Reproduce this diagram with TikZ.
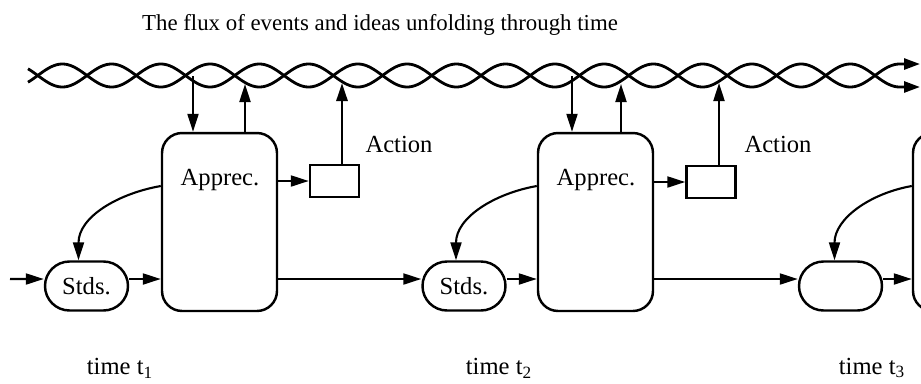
\documentclass[tikz,border=0pt]{standalone}
\usepackage{fontspec}
\setmainfont{Liberation Serif}
\usetikzlibrary{positioning,shapes.misc,arrows.meta}

\begin{document}
\begin{tikzpicture}[x=0.02cm,y=-0.02cm,font=\fontsize{14}{16}\selectfont,
    apbox/.style={draw,line width=1.4pt,rounded corners=0.4cm,minimum width=2.3cm,minimum height=3.56cm},
    stdbox/.style={draw,line width=1.4pt,rounded rectangle,minimum width=1.66cm,minimum height=0.98cm,inner sep=0pt},
    actbox/.style={draw,line width=1.4pt,minimum width=0.98cm,minimum height=0.64cm,inner sep=0pt},
    arr/.style={line width=1.2pt,-{Triangle[length=0.36cm,width=0.22cm]}},
    rope/.style={line width=1.6pt}]
            \useasboundingbox (0,0) rectangle (921,383);
            \clip (0,0) rectangle (921,383);
            \node (title) at (380,25) {\fontsize{13}{15}\selectfont The flux of events and ideas unfolding through time};
            \draw[rope,-{Triangle[length=0.32cm,width=0.22cm]}] plot[domain=28:900.5,samples=500,smooth] (\x,{75.5+11.5*sin((\x-87)/49.25*180)}) -- (920,87);
            \draw[rope,-{Triangle[length=0.32cm,width=0.22cm]}] plot[domain=28:900.5,samples=500,smooth] (\x,{75.5-11.5*sin((\x-87)/49.25*180)}) -- (920,64);
            \node[apbox] (app1) at (219.5,222) {};
            \node[apbox] (app2) at (595.5,222) {};
            \node[apbox] (app3) at (970.5,222) {};
            \node[stdbox] (stds1) at (86.5,286) {Stds.};
            \node[stdbox] (stds2) at (464,286) {Stds.};
            \node[stdbox] (stds3) at (840.5,286) {};
            \node[actbox] (act1) at (334.5,181) {};
            \node[actbox] (act2) at (711,182) {};
            \node (aplab1) at (220,180) {Apprec.};
            \node (aplab2) at (596,180) {Apprec.};
            \node (acttxt1) at (399,144) {Action};
            \node (acttxt2) at (778,144) {Action};
            \node (time1) at (120,368) {time t\textsubscript{1}};
            \node (time2) at (499,368) {time t\textsubscript{2}};
            \node (time3) at (872,368) {time t\textsubscript{3}};
            \coordinate (in0) at (10,279);
            \coordinate (rd1) at (193,76);
            \coordinate (ru1) at (245,84);
            \coordinate (ra1) at (342,83);
            \coordinate (rd2) at (572,76);
            \coordinate (ru2) at (621,84);
            \coordinate (ra2) at (719,83);
            \draw[arr] (rd1) -- (rd1 |- app1.north);
            \draw[arr] (ru1 |- app1.north) -- (ru1);
            \draw[arr,line width=1.6pt] (ra1 |- act1.north) -- (ra1);
            \draw[arr] (app1.east |- act1.west) -- (act1.west);
            \draw[arr] (rd2) -- (rd2 |- app2.north);
            \draw[arr] (ru2 |- app2.north) -- (ru2);
            \draw[arr] (ra2 |- act2.north) -- (ra2);
            \draw[arr] (app2.east |- act2.west) -- (act2.west);
            \draw[arr] ([yshift=0.72cm]app1.west) to[out=190,in=90] ([xshift=-0.16cm]stds1.north);
            \draw[arr] ([yshift=0.72cm]app2.west) to[out=190,in=90] ([xshift=-0.16cm]stds2.north);
            \draw[arr] ([yshift=0.72cm]app3.west) to[out=190,in=90] ([xshift=-0.12cm]stds3.north);
            \draw[arr] (in0) -- ([yshift=0.14cm]stds1.west);
            \draw[arr] ([yshift=0.14cm]stds1.east) -- ([yshift=0.14cm]stds1.east -| app1.west);
            \draw[arr] ([yshift=0.14cm]stds1.east -| app1.east) -- ([yshift=0.14cm]stds2.west);
            \draw[arr] ([yshift=0.14cm]stds2.east) -- ([yshift=0.14cm]stds2.east -| app2.west);
            \draw[arr] ([yshift=0.14cm]stds2.east -| app2.east) -- ([yshift=0.14cm]stds3.west);
            \draw[arr] ([yshift=0.14cm]stds3.east) -- ([yshift=0.14cm]stds3.east -| app3.west);
        \end{tikzpicture}
\end{document}
